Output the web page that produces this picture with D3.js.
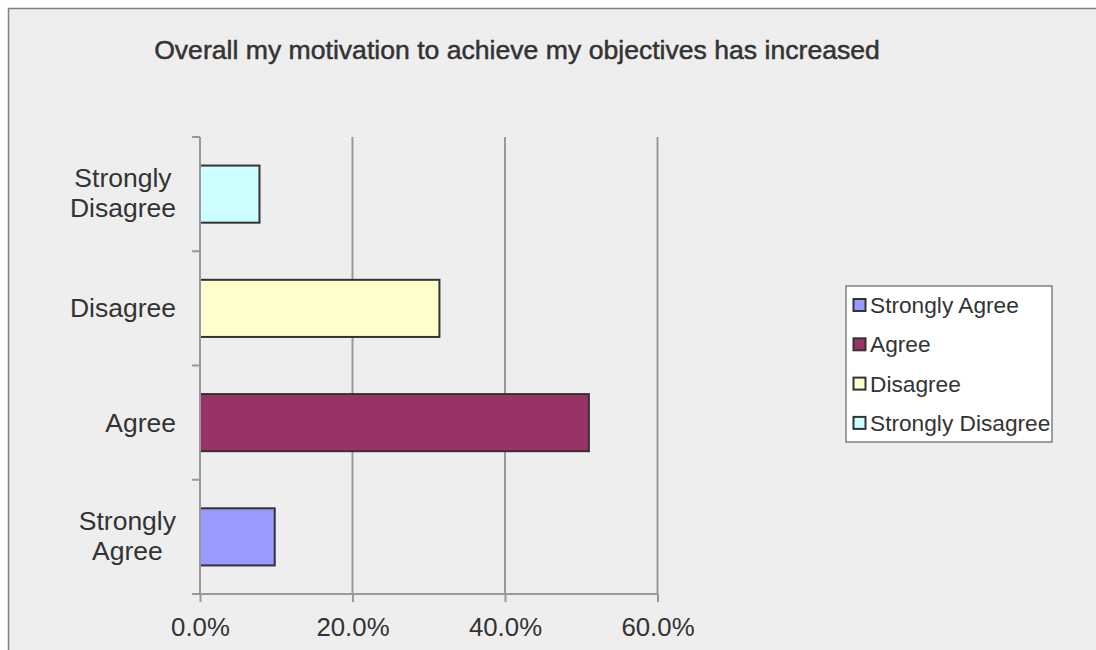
<!DOCTYPE html>
<html>
<head>
<meta charset="utf-8">
<script src="https://cdn.jsdelivr.net/npm/d3@7"></script>
<style>
  html, body { margin:0; padding:0; overflow:hidden; background:#fff; }
  svg { display:block; }
  svg text { font-family:"Liberation Sans", Arial, sans-serif; fill:#333; }
</style>
</head>
<body>
<div id="chart"></div>
<script>
// data
var categories = ["Strongly Agree","Agree","Disagree","Strongly Disagree"];
var values = [0.098, 0.510, 0.314, 0.078];
var colors = ["#9999ff","#993366","#ffffcc","#ccffff"];
var xTicks = [0, 0.2, 0.4, 0.6];
var title = "Overall my motivation to achieve my objectives has increased";

var W = 1096, H = 650;
var svg = d3.select("#chart").append("svg")
  .attr("width", W).attr("height", H);

svg.append("rect").attr("width", W).attr("height", H).attr("fill", "#fff");
//chart area with frame running off the right and bottom edges
svg.append("rect")
  .attr("x", 8.5).attr("y", 8.5)
  .attr("width", W+20).attr("height", H+20)
  .style("fill", "#eeeeee").style("stroke", "#808080").style("stroke-width", 1.5);

svg.append("text")
  .attr("x", 517).attr("y", 59)
  .attr("text-anchor", "middle")
  .style("font-size", "26.6px")
  .style("stroke", "#333").style("stroke-width", 0.5)
  .text(title);

var x = d3.scaleLinear().domain([0, 0.6]).range([200, 657.5]);
var y = d3.scaleBand()
  .domain(categories.slice().reverse())
  .range([137, 594])
  .paddingInner(0.5).paddingOuter(0.25);

//grid lines
svg.append("g").selectAll("line")
  .data(xTicks.slice(1))
  .enter().append("line")
  .attr("x1", function(d){ return x(d); }).attr("x2", function(d){ return x(d); })
  .attr("y1", 137).attr("y2", 594)
  .style("stroke", "#999").style("stroke-width", 2);

//bars
svg.append("g").selectAll("rect")
  .data(categories)
  .enter().append("rect")
  .attr("x", x(0))
  .attr("y", function(d){ return y(d); })
  .attr("width", function(d, i){ return x(values[i]) - x(0); })
  .attr("height", y.bandwidth())
  .style("fill", function(d, i){ return colors[i]; })
  .style("stroke", "#333").style("stroke-width", 2);

//x axis
var xAxis = d3.axisBottom(x).tickValues(xTicks).tickSize(8)
  .tickFormat(d3.format(".1%"));
var gx = svg.append("g").attr("transform", "translate(0,594)").call(xAxis);
gx.select(".domain").attr("d", "M192,0H" + x(0.6)).style("stroke", "#999").style("stroke-width", 2);
gx.selectAll(".tick line").style("stroke", "#999").style("stroke-width", 2);
gx.selectAll(".tick text").attr("y", 0).attr("dy", 0)
  .attr("transform", "translate(0,42)")
  .style("font-size", "25.8px").style("fill", "#333");

//y axis: ticks at band edges
var edges = y.domain().map(function(d){ return y(d) - y.step()*0.25; }).concat([594]);
var gy = svg.append("g");
gy.append("line").attr("x1", 200).attr("x2", 200).attr("y1", 137).attr("y2", 594)
  .style("stroke", "#999").style("stroke-width", 2);
gy.selectAll(".ytick").data(edges).enter().append("line")
  .attr("x1", 192).attr("x2", 200)
  .attr("y1", function(d){ return d; }).attr("y2", function(d){ return d; })
  .style("stroke", "#999").style("stroke-width", 2);

//category labels, wrapped on two lines when long
var labelRight = 176;
y.domain().forEach(function(c){
  var words = c.split(" ");
  var cy = y(c) + y.bandwidth()/2;
  var g = svg.append("g");
  if(words.length == 1){
    g.append("text").attr("x", labelRight).attr("y", cy + 9)
      .attr("text-anchor", "end").style("font-size", "26.5px").text(c);
  }
  else {
    var t = g.append("text").style("font-size", "26.5px").attr("text-anchor", "middle");
    var lines = words.map(function(w, i){
      return t.append("tspan").attr("y", cy - 7 + i*30).text(w);
    });
    var wmax = d3.max(lines, function(l){ return l.node().getComputedTextLength(); });
    lines.forEach(function(l){ l.attr("x", labelRight - wmax/2); });
  }
});

//legend
var legend = svg.append("g");
legend.append("rect")
  .attr("x", 846).attr("y", 286).attr("width", 206).attr("height", 156)
  .style("fill", "#fff").style("stroke", "#808080").style("stroke-width", 1.5);
categories.forEach(function(c, i){
  var ly = 305 + i*39.3;
  legend.append("rect")
    .attr("x", 853.5).attr("y", ly - 6).attr("width", 12).attr("height", 12)
    .style("fill", colors[i]).style("stroke", "#333").style("stroke-width", 2);
  legend.append("text")
    .attr("x", 870).attr("y", ly + 8)
    .style("font-size", "22.7px").text(c);
});
</script>
</body>
</html>
